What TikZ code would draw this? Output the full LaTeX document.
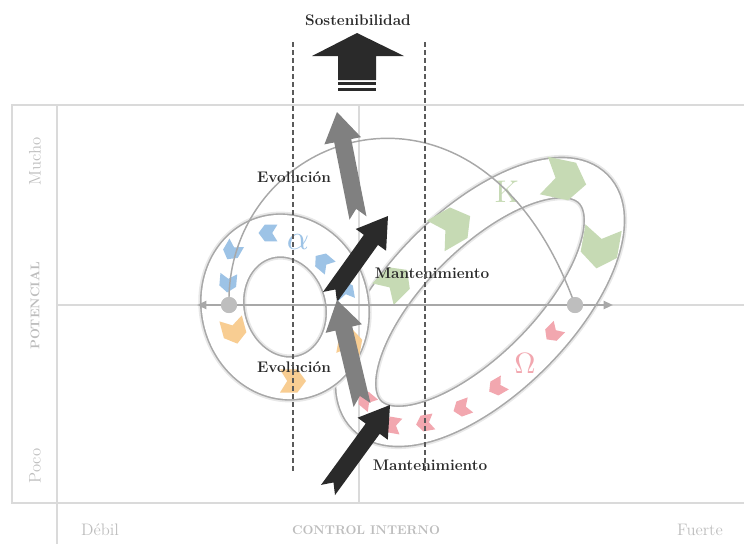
\documentclass[tikz,border=0pt]{standalone}
\usepackage{tikz}
\usetikzlibrary{arrows.meta,calc}
\definecolor{Frame}{HTML}{DADADA}
\definecolor{AxisTxt}{HTML}{BDBDBD}
\definecolor{Ink}{HTML}{2A2A2A}
\definecolor{ArrowGray}{HTML}{808080}
\definecolor{RingLine}{HTML}{A8A8A8}
\definecolor{Guide}{HTML}{5A5A5A}
\definecolor{AlphaBlue}{HTML}{9DC3E6}
\definecolor{BackOrange}{HTML}{F8CD92}
\definecolor{KGreen}{HTML}{C6DAB4}
\definecolor{OmegaPink}{HTML}{F2A7AF}

% fat notched arrow: tail, tip, colour
\newcommand{\fatarrow}[3]{%
  \coordinate (fa-neck) at ($(#2)!22pt!(#1)$);
  \fill[#3] ($(#1)!6.5pt!90:(#2)$) -- ($(fa-neck)!6.5pt!90:(#2)$) -- ($(fa-neck)!14pt!90:(#2)$) -- (#2)
    -- ($(fa-neck)!14pt!-90:(#2)$) -- ($(fa-neck)!6.5pt!-90:(#2)$) -- ($(#1)!6.5pt!-90:(#2)$)
    -- ($(#1)!7pt!(#2)$) -- cycle;}

\begin{document}
\begin{tikzpicture}[
  x=0.75pt,y=-0.75pt,
  frameline/.style={draw=Frame,line width=2.2pt},
  axisline/.style={draw=Frame,line width=1.6pt},
  midaxis/.style={draw=RingLine,line width=1.6pt,{Triangle[length=7pt,width=6pt]}-{Triangle[length=7pt,width=6pt]}},
  guide/.style={draw=Guide,line width=1.9pt,dash pattern=on 3.5pt off 2.5pt},
  ring/.style={draw=RingLine,line width=1.2pt,double=white,double distance=#1,
    preaction={draw=black!9,line width=#1+5pt}},
  thinarc/.style={draw=RingLine,line width=1.1pt},
  dot/.style={circle,fill=RingLine!75,minimum size=12pt,inner sep=0pt},
  axlbl/.style={text=AxisTxt,font=\fontsize{12.5}{14}\selectfont},
  axtitle/.style={text=AxisTxt,font=\fontsize{9.5}{12}\selectfont\bfseries},
  lbl/.style={text=Ink,font=\fontsize{11.5}{13}\selectfont\bfseries},
  chev/.pic={\fill[pic actions] (-9,-8) -- (3,-8) -- (9,0) -- (3,8) -- (-9,8) -- (-4,0) -- cycle;}
]
\useasboundingbox (0,0) rectangle (744,544);

% frame and axes
\draw[frameline] (744,105) -- (12,105) -- (12,503) -- (744,503);
\draw[frameline] (57,105) -- (57,544);
\draw[axisline] (57,305) -- (744,305);

% adaptive cycle band
\begin{scope}[shift={(480,302)},rotate=45]
  \draw[ring=29pt] (0,0) ellipse [x radius=160,y radius=73];
\end{scope}
\begin{scope}[shift={(285,307)},rotate=15]
  \draw[ring=31pt] (0,0) ellipse [x radius=62,y radius=72];
\end{scope}
\draw[axisline] (359,105) -- (359,503);

% phase arrows
\foreach \px/\py/\ang in {345/290/100,323/262/140,268/233/180,232/251/240,228/283/265}
  \pic[fill=AlphaBlue,rotate=\ang,scale=1.05] at (\px,\py) {chev};
\foreach \px/\py/\ang in {234/331/285,293/381/0,350/342/80}
  \pic[fill=BackOrange,rotate=\ang,scale=1.45] at (\px,\py) {chev};
\foreach \px/\py/\ang/\s in {395/282/45/1.9,453/226/30/2.2,565/180/-12/2.4,600/248/-100/2.3}
  \pic[fill=KGreen,rotate=\ang,scale=\s] at (\px,\py) {chev};
\foreach \px/\py/\ang in {553/333/225,497/387/210,462/408/200,425/423/190,392/425/170,366/400/140}
  \pic[fill=OmegaPink,rotate=\ang,scale=1.0] at (\px,\py) {chev};

\node[text=AlphaBlue,scale=2.6] (alpha) at (298,242) {$\alpha$};
\node[text=KGreen,scale=2.35] (kappa) at (507,192) {K};
\node[text=OmegaPink,scale=2.2] (omega) at (525,363) {$\Omega$};

% back connection and axis markers
\node[dot] (ldot) at (229,305) {};
\node[dot] (rdot) at (575,305) {};
\draw[thinarc] (ldot.center) .. controls (225,130) and (480,40) .. (rdot.center);
\coordinate (axl) at (197,305);
\coordinate (axr) at (613,305);
\draw[midaxis] (axl) -- (axr);
\node[dot] at (ldot) {};
\node[dot] at (rdot) {};

% evolution / maintenance arrows
\coordinate (evo1-tail) at (358,218);
\coordinate (evo1-tip) at (337,112);
\coordinate (man1-tail) at (330,297);
\coordinate (man1-tip) at (388,216);
\coordinate (evo2-tail) at (362,405);
\coordinate (evo2-tip) at (337,300);
\coordinate (man2-tail) at (328,490);
\coordinate (man2-tip) at (390,405);
\fatarrow{evo1-tail}{evo1-tip}{ArrowGray}
\fatarrow{man1-tail}{man1-tip}{Ink}
\fatarrow{evo2-tail}{evo2-tip}{ArrowGray}
\fatarrow{man2-tail}{man2-tip}{Ink}

\node[lbl] (evo1) at (294,177) {Evolución};
\node[lbl] (man1) at (432,273) {Mantenimiento};
\node[lbl] (evo2) at (294,367) {Evolución};
\node[lbl] (man2) at (430,465) {Mantenimiento};

% sustainability corridor
\draw[guide] (293,42) -- (293,472);
\draw[guide] (425,42) -- (425,472);
\node[lbl] (sost) at (358,20) {Sostenibilidad};
\fill[Ink] (357,33) -- (404,56) -- (376,56) -- (376,80) -- (338,80) -- (338,56) -- (312,56) -- cycle;
\fill[Ink] (338,82) rectangle (376,85);
\fill[Ink] (338,87.5) rectangle (376,91);

% axis labels
\node[axlbl,rotate=90] (mucho) at (35,161) {Mucho};
\node[axtitle,rotate=90] (pot) at (35,306) {POTENCIAL};
\node[axlbl,rotate=90] (poco) at (35,466) {Poco};
\node[axlbl] (debil) at (100,530) {Débil};
\node[axtitle] (ctrl) at (366,530) {CONTROL INTERNO};
\node[axlbl] (fuerte) at (700,530) {Fuerte};
\end{tikzpicture}
\end{document}
